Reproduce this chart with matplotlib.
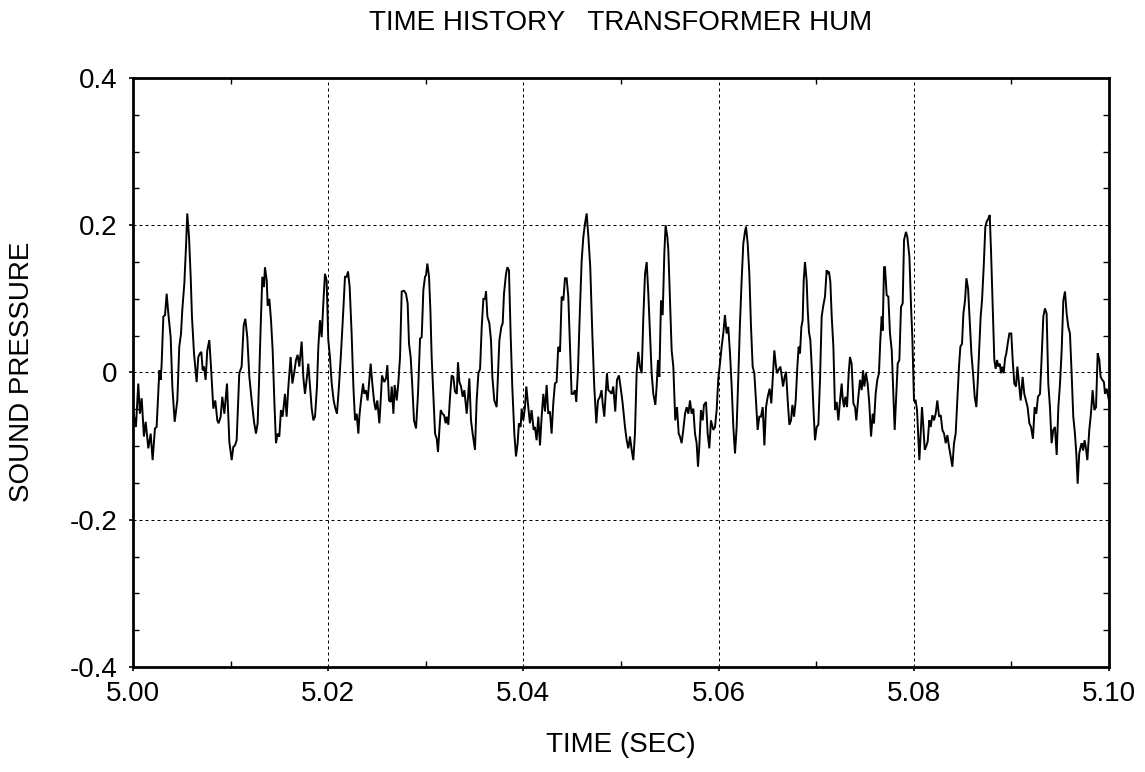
import numpy as np
import matplotlib
matplotlib.use("Agg")
import matplotlib.pyplot as plt
from matplotlib.ticker import MultipleLocator, FixedLocator

plt.rcParams['font.family'] = ['Liberation Sans', 'DejaVu Sans']

title_text = "TIME HISTORY   TRANSFORMER HUM"
x_label = "TIME (SEC)"
y_label = "SOUND PRESSURE"
x_ticks = [5.00, 5.02, 5.04, 5.06, 5.08, 5.10]
x_tick_labels = ["5.00", "5.02", "5.04", "5.06", "5.08", "5.10"]
y_ticks = [-0.4, -0.2, 0.0, 0.2, 0.4]
y_tick_labels = ["-0.4", "-0.2", "0", "0.2", "0.4"]
t_start = 5.0

# time offsets (ms from 5.000 s) and sound pressure
time_ms_1 = [0.0, 0.30, 0.54, 0.71, 0.89, 1.12, 1.30, 1.57, 1.81, 2.01, 2.25, 2.42, 2.70, 2.83, 2.93,
             3.11, 3.28, 3.45, 3.62, 3.86, 4.03, 4.27, 4.54, 4.74, 4.92, 5.05, 5.26, 5.43, 5.56, 5.74,
             5.91, 6.04, 6.25, 6.52, 6.69, 6.86, 7.00, 7.14, 7.27, 7.44, 7.61, 7.82, 7.99, 8.23, 8.43,
             8.64, 8.77, 8.98, 9.15, 9.36, 9.63, 9.87, 10.11, 10.28, 10.45, 10.62, 10.89, 11.13, 11.34,
             11.51, 11.71, 11.92, 12.16, 12.40, 12.60, 12.77]
pressure_1 = [-0.051, -0.074, -0.015, -0.056, -0.035, -0.087, -0.067, -0.103, -0.083, -0.119, -0.076, -0.074, 0.003, -0.010, 0.010,
              0.076, 0.078, 0.107, 0.080, 0.048, -0.019, -0.067, -0.038, 0.035, 0.053, 0.085, 0.121, 0.171, 0.216, 0.184,
              0.130, 0.076, 0.026, -0.013, 0.021, 0.026, 0.028, 0.003, 0.008, -0.010, 0.030, 0.044, 0.008, -0.049, -0.038,
              -0.065, -0.069, -0.060, -0.033, -0.056, -0.015, -0.094, -0.119, -0.101, -0.099, -0.092, -0.001, 0.008, 0.064,
              0.073, 0.048, -0.006, -0.038, -0.067, -0.083, -0.069]

time_ms_2 = [12.91, 13.08, 13.25, 13.42, 13.52, 13.70, 13.80, 13.97, 14.14, 14.31, 14.48, 14.65, 14.82, 14.99, 15.16,
             15.33, 15.57, 15.74, 15.92, 16.15, 16.33, 16.53, 16.70, 16.87, 17.04, 17.28, 17.45, 17.62, 17.79, 17.96,
             18.14, 18.31, 18.48, 18.65, 18.85, 18.99, 19.16, 19.33, 19.50, 19.67, 19.84, 20.01, 20.18, 20.36, 20.56,
             20.70, 20.90, 21.11, 21.31, 21.55, 21.72, 21.89, 22.03, 22.20, 22.40, 22.58, 22.75, 22.92, 23.09, 23.19,
             23.36, 23.57, 23.70, 23.87, 24.04, 24.21, 24.35, 24.52, 24.69, 24.86, 25.03, 25.24, 25.38, 25.51, 25.75]
pressure_2 = [-0.015, 0.062, 0.130, 0.116, 0.143, 0.125, 0.091, 0.100, 0.071, 0.030, -0.038, -0.096, -0.083, -0.087, -0.051,
              -0.060, -0.029, -0.060, -0.019, 0.021, -0.015, 0.001, 0.017, 0.024, 0.008, 0.042, -0.006, -0.029, -0.010, 0.012,
              -0.019, -0.049, -0.065, -0.060, -0.019, 0.035, 0.071, 0.048, 0.094, 0.134, 0.125, 0.044, 0.021, -0.015, -0.038,
              -0.047, -0.056, -0.017, 0.026, 0.085, 0.130, 0.130, 0.137, 0.116, 0.053, -0.019, -0.065, -0.056, -0.083, -0.060,
              -0.038, -0.015, -0.029, -0.024, -0.038, -0.010, 0.012, -0.015, -0.038, -0.051, -0.038, -0.069, -0.038, -0.004, -0.013]

time_ms_3 = [25.92, 26.06, 26.23, 26.40, 26.51, 26.68, 26.81, 27.02, 27.19, 27.36, 27.53, 27.77, 27.97, 28.14, 28.28,
             28.45, 28.62, 28.79, 29.00, 29.20, 29.41, 29.58, 29.75, 29.92, 30.02, 30.16, 30.33, 30.47, 30.60, 30.77,
             30.95, 31.12, 31.25, 31.39, 31.53, 31.70, 31.87, 32.04, 32.14, 32.31, 32.48, 32.65, 32.82, 32.99, 33.17,
             33.30, 33.44, 33.61, 33.78, 33.95, 34.19, 34.33, 34.46, 34.63, 34.80, 35.04, 35.21, 35.39, 35.56, 35.73,
             35.90, 36.07, 36.17, 36.31, 36.51, 36.68, 36.82, 37.02, 37.26, 37.43, 37.54, 37.74, 37.88, 38.01, 38.22, 38.36]
pressure_3 = [-0.008, 0.010, -0.038, -0.040, -0.019, -0.056, -0.017, -0.038, -0.013, 0.021, 0.110, 0.111, 0.107, 0.094, 0.039,
              0.021, -0.019, -0.065, -0.076, -0.029, 0.046, 0.048, 0.112, 0.130, 0.132, 0.148, 0.130, 0.085, 0.021, -0.029,
              -0.083, -0.090, -0.108, -0.078, -0.051, -0.056, -0.058, -0.069, -0.060, -0.071, -0.033, -0.004, -0.006, -0.026, -0.029,
              0.014, -0.013, -0.019, -0.033, -0.024, -0.056, -0.033, -0.008, -0.065, -0.083, -0.105, -0.038, -0.001, 0.005, 0.062,
              0.100, 0.100, 0.110, 0.076, 0.067, 0.044, -0.006, -0.038, -0.047, 0.008, 0.044, 0.062, 0.067, 0.107, 0.134, 0.143]

time_ms_4 = [38.52, 38.69, 38.86, 39.07, 39.24, 39.41, 39.54, 39.72, 39.82, 39.99, 40.16, 40.30, 40.50, 40.67, 40.84,
             41.05, 41.18, 41.35, 41.53, 41.70, 41.87, 42.04, 42.21, 42.38, 42.55, 42.72, 42.89, 43.06, 43.23, 43.40,
             43.57, 43.75, 43.92, 44.09, 44.26, 44.43, 44.60, 44.77, 44.94, 45.11, 45.28, 45.42, 45.59, 45.79, 45.97,
             46.14, 46.31, 46.48, 46.65, 46.85, 47.06, 47.26, 47.47, 47.64, 47.84, 48.01, 48.12, 48.29, 48.46, 48.56,
             48.70, 48.87, 49.04, 49.21, 49.41, 49.59, 49.79, 50.00, 50.17, 50.41, 50.58, 50.75, 50.92, 51.09, 51.26]
pressure_4 = [0.139, 0.053, -0.019, -0.083, -0.114, -0.096, -0.069, -0.074, -0.049, -0.065, -0.047, -0.019, -0.047, -0.069, -0.051,
              -0.078, -0.074, -0.092, -0.060, -0.099, -0.060, -0.029, -0.053, -0.017, -0.056, -0.053, -0.083, -0.042, -0.015, -0.013,
              0.035, 0.028, 0.103, 0.098, 0.128, 0.128, 0.103, 0.039, -0.029, -0.029, -0.024, -0.040, 0.003, 0.085, 0.152,
              0.184, 0.202, 0.216, 0.186, 0.143, 0.053, -0.019, -0.069, -0.038, -0.033, -0.024, -0.042, -0.060, -0.024, -0.001,
              -0.024, -0.026, -0.029, -0.019, -0.053, -0.010, -0.004, -0.024, -0.042, -0.074, -0.092, -0.103, -0.087, -0.105, -0.119]

time_ms_5 = [51.43, 51.60, 51.77, 51.94, 52.12, 52.29, 52.46, 52.63, 52.80, 52.97, 53.14, 53.31, 53.52, 53.65, 53.79,
             53.93, 54.10, 54.27, 54.44, 54.57, 54.75, 54.85, 55.02, 55.19, 55.36, 55.56, 55.74, 55.91, 56.04, 56.21,
             56.38, 56.56, 56.73, 56.90, 57.07, 57.24, 57.41, 57.58, 57.75, 57.89, 58.02, 58.19, 58.37, 58.50, 58.71,
             58.88, 59.05, 59.22, 59.46, 59.63, 59.80, 59.97, 60.14, 60.31, 60.48, 60.65, 60.82, 60.99, 61.17, 61.34,
             61.51, 61.68, 61.85, 62.02, 62.19, 62.36, 62.53, 62.70, 62.81, 62.98, 63.15, 63.32, 63.49, 63.66, 63.83,
             64.00, 64.17]
pressure_5 = [-0.083, -0.001, 0.028, 0.008, -0.001, 0.076, 0.134, 0.150, 0.107, 0.053, -0.001, -0.029, -0.044, -0.019, 0.017,
              -0.006, 0.098, 0.078, 0.162, 0.200, 0.184, 0.166, 0.098, 0.030, 0.008, -0.065, -0.047, -0.083, -0.087, -0.096,
              -0.078, -0.056, -0.047, -0.056, -0.038, -0.056, -0.049, -0.083, -0.096, -0.128, -0.101, -0.051, -0.065, -0.044, -0.040,
              -0.083, -0.103, -0.065, -0.078, -0.074, -0.051, -0.008, 0.012, 0.035, 0.053, 0.078, 0.053, 0.062, 0.026, -0.019,
              -0.074, -0.110, -0.074, -0.006, 0.067, 0.125, 0.175, 0.191, 0.198, 0.175, 0.134, 0.062, 0.008, -0.001, -0.038,
              -0.078, -0.060]

time_ms_6 = [64.34, 64.52, 64.69, 64.86, 65.03, 65.23, 65.40, 65.54, 65.71, 65.85, 65.98, 66.12, 66.33, 66.46, 66.60,
             66.77, 66.91, 67.08, 67.25, 67.42, 67.56, 67.73, 67.90, 68.07, 68.20, 68.34, 68.48, 68.61, 68.72, 68.85,
             69.02, 69.13, 69.26, 69.40, 69.54, 69.71, 69.88, 70.05, 70.22, 70.39, 70.56, 70.73, 70.90, 71.07, 71.21,
             71.31, 71.45, 71.59, 71.76, 71.93, 72.10, 72.27, 72.44, 72.61, 72.71, 72.85, 72.99, 73.16, 73.33, 73.46,
             73.63, 73.81, 73.98, 74.11, 74.32, 74.49, 74.66, 74.80, 74.93, 75.10, 75.27, 75.44, 75.62, 75.79, 75.92,
             76.09, 76.26, 76.43, 76.57, 76.71, 76.81, 76.95]
pressure_6 = [-0.060, -0.047, -0.099, -0.047, -0.033, -0.022, -0.042, -0.010, 0.030, 0.012, -0.001, 0.003, 0.008, -0.004, -0.019,
              -0.006, 0.001, -0.038, -0.071, -0.065, -0.044, -0.060, -0.038, 0.008, 0.035, 0.026, 0.062, 0.071, 0.125, 0.150,
              0.125, 0.085, 0.055, 0.044, 0.008, -0.047, -0.092, -0.074, -0.071, -0.010, 0.076, 0.091, 0.103, 0.139, 0.134,
              0.137, 0.123, 0.076, 0.035, -0.051, -0.040, -0.065, -0.038, -0.015, -0.035, -0.047, -0.033, -0.047, -0.001, 0.021,
              0.012, -0.042, -0.047, -0.065, -0.033, -0.010, -0.024, 0.003, -0.019, -0.001, -0.015, -0.042, -0.087, -0.056, -0.069,
              -0.029, -0.010, -0.001, 0.044, 0.076, 0.057, 0.143]

time_ms_7 = [77.05, 77.22, 77.39, 77.56, 77.74, 77.91, 78.04, 78.18, 78.35, 78.52, 78.69, 78.86, 79.00, 79.20, 79.34,
             79.55, 79.72, 79.85, 80.02, 80.19, 80.33, 80.47, 80.57, 80.71, 80.84, 80.98, 81.12, 81.25, 81.42, 81.59,
             81.73, 81.90, 82.07, 82.24, 82.41, 82.59, 82.76, 82.93, 83.10, 83.27, 83.44, 83.61, 83.78, 83.95, 84.12,
             84.29, 84.46, 84.63, 84.77, 84.94, 85.08, 85.25, 85.39, 85.56, 85.73, 85.90, 86.07, 86.24, 86.41, 86.55,
             86.68, 86.85, 86.99, 87.16, 87.33, 87.47, 87.64, 87.78, 87.91, 88.08, 88.25, 88.39, 88.53, 88.66, 88.80,
             88.94, 89.07, 89.21, 89.35, 89.48, 89.62, 89.79]
pressure_7 = [0.143, 0.105, 0.103, 0.053, 0.030, -0.029, -0.078, -0.038, 0.012, 0.017, 0.089, 0.094, 0.180, 0.191, 0.184,
              0.157, 0.089, 0.048, -0.038, -0.038, -0.051, -0.092, -0.119, -0.083, -0.047, -0.074, -0.105, -0.101, -0.094, -0.065,
              -0.074, -0.058, -0.065, -0.056, -0.038, -0.060, -0.058, -0.078, -0.083, -0.096, -0.085, -0.101, -0.114, -0.128, -0.096,
              -0.083, -0.038, 0.008, 0.035, 0.039, 0.080, 0.098, 0.128, 0.114, 0.071, 0.026, -0.001, -0.033, -0.047, -0.013,
              0.026, 0.076, 0.098, 0.143, 0.198, 0.205, 0.209, 0.214, 0.166, 0.089, 0.017, 0.005, 0.017, 0.008, 0.012,
              -0.001, 0.008, -0.001, 0.019, 0.026, 0.039, 0.053]

time_ms_8 = [89.85, 89.99, 90.13, 90.30, 90.47, 90.61, 90.78, 90.95, 91.15, 91.32, 91.49, 91.66, 91.84, 92.01, 92.21,
             92.38, 92.55, 92.72, 92.93, 93.10, 93.27, 93.44, 93.61, 93.78, 93.95, 94.12, 94.29, 94.46, 94.64, 94.81,
             94.98, 95.15, 95.32, 95.49, 95.66, 95.83, 96.00, 96.17, 96.34, 96.51, 96.65, 96.79, 96.95, 97.10, 97.20,
             97.35, 97.50, 97.62, 97.78, 97.98, 98.15, 98.32, 98.50, 98.67, 98.84, 99.01, 99.14, 99.31, 99.48, 99.59,
             99.76, 100.0]
pressure_8 = [0.053, 0.053, 0.017, -0.015, -0.019, 0.008, -0.015, -0.038, -0.006, -0.029, -0.038, -0.047, -0.069, -0.074, -0.090,
              -0.047, -0.056, -0.033, -0.029, 0.021, 0.076, 0.087, 0.080, -0.015, -0.047, -0.096, -0.078, -0.074, -0.112, -0.047,
              -0.015, 0.030, 0.098, 0.110, 0.080, 0.062, 0.053, -0.001, -0.060, -0.083, -0.110, -0.151, -0.110, -0.101, -0.096,
              -0.106, -0.092, -0.101, -0.119, -0.078, -0.056, -0.024, -0.051, -0.047, 0.026, 0.017, -0.006, -0.010, -0.013, -0.029,
              -0.022, -0.038]

time_ms = (time_ms_1 + time_ms_2 + time_ms_3 + time_ms_4 +
           time_ms_5 + time_ms_6 + time_ms_7 + time_ms_8)
pressure = (pressure_1 + pressure_2 + pressure_3 + pressure_4 +
            pressure_5 + pressure_6 + pressure_7 + pressure_8)

t = t_start + np.array(time_ms) / 1000.0
p = np.array(pressure)

W, H = 1145, 772
fig = plt.figure(figsize=(W / 100, H / 100), dpi=100)
ax = fig.add_axes([133 / W, 1 - 667 / H, (1109 - 133) / W, (667 - 78) / H])

ax.plot(t, p, color='black', linewidth=1.4, solid_joinstyle='miter')

ax.set_xlim(5.0, 5.1)
ax.set_ylim(-0.4, 0.4)
ax.xaxis.set_major_locator(FixedLocator(x_ticks))
ax.yaxis.set_major_locator(FixedLocator(y_ticks))
ax.set_xticklabels(x_tick_labels)
ax.set_yticklabels(y_tick_labels)
ax.xaxis.set_minor_locator(MultipleLocator(0.01))
ax.yaxis.set_minor_locator(MultipleLocator(0.05))

ax.grid(True, which='major', color='black', linestyle=(0, (3, 3)), linewidth=0.72)
ax.tick_params(which='major', direction='out', length=3, width=1.2, labelsize=20,
               top=False, right=False)
ax.tick_params(which='minor', direction='in', length=4, width=1.0, top=True, right=True)
ax.tick_params(axis='x', which='major', pad=7)
ax.tick_params(axis='y', which='major', pad=8)
for s in ax.spines.values():
    s.set_linewidth(2.0)

fig.text(621 / W, 1 - 30 / H, title_text, ha='center', va='baseline', fontsize=20)
fig.text(621 / W, 1 - 745 / H, x_label, ha='center', va='center', fontsize=20)
fig.text(22 / W, 1 - 372 / H, y_label, ha='center', va='center', fontsize=20, rotation=90)

fig.savefig("out.png", dpi=100)
